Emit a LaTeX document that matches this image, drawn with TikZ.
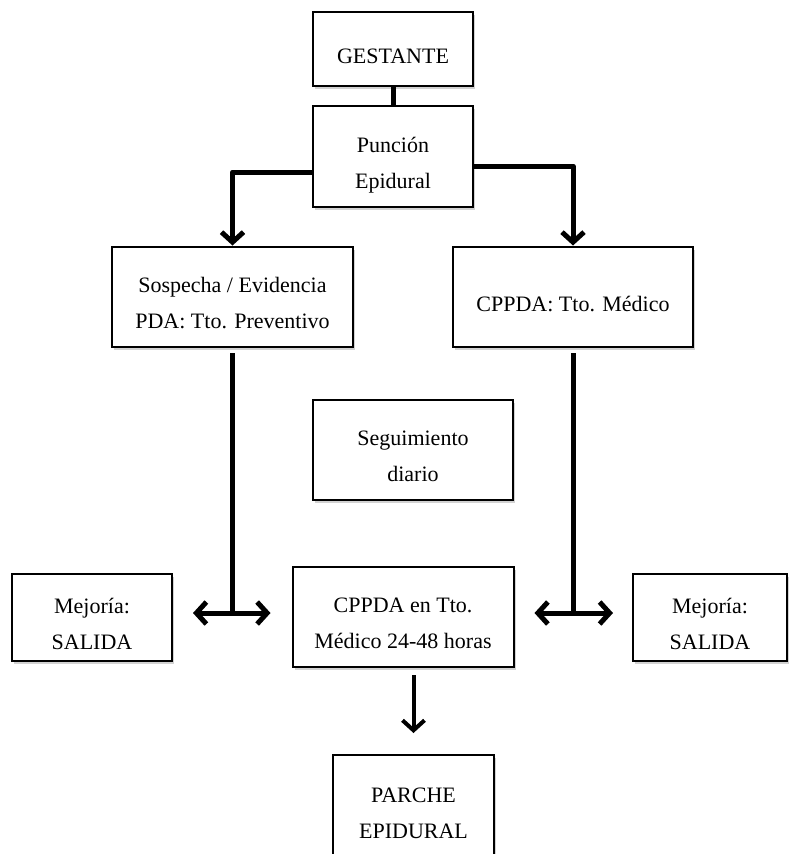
\documentclass[tikz,border=0pt]{standalone}
\usepackage{fontspec}
\setmainfont{Liberation Serif}
\usepackage{tikz}
\usetikzlibrary{arrows.meta, positioning, shadows}

\begin{document}
\begin{tikzpicture}[x=1pt, y=-1pt,
    every node/.style={font=\fontsize{22}{36}\selectfont},
    box/.style={draw, line width=2pt, fill=white, align=center,
                inner sep=0pt, outer sep=0pt, text height=63pt, text depth=0pt,
                drop shadow={shadow xshift=2pt, shadow yshift=-3pt, fill=black!25, opacity=0.7}},
    oneline/.style={text height=28pt},
    link/.style={line width=5pt},
    arr/.style={line width=5pt, -{Straight Barb[length=10pt, width=22pt]}},
    dbl/.style={line width=5pt, {Straight Barb[length=10pt, width=22pt]}-{Straight Barb[length=10pt, width=22pt]}}]
        \useasboundingbox (0,0) rectangle (788,854);
        \node[box, oneline, minimum width=160pt, minimum height=74pt]
          (gest) at (393, 49)    {GESTANTE};
        \node[box, minimum width=160pt, minimum height=101pt]
          (punc) at (393, 156.5) {Punción\\Epidural};
        \node[box, minimum width=241pt, minimum height=100pt]
          (sosp) at (232.5, 297) {Sospecha / Evidencia\\PDA: Tto. Preventivo};
        \node[box, oneline, minimum width=240pt, minimum height=100pt]
          (cppda) at (573, 297)  {CPPDA: Tto. Médico};
        \node[box, minimum width=200pt, minimum height=100pt]
          (seg) at (413, 450)    {Seguimiento\\diario};
        \node[box, minimum width=221pt, minimum height=100pt]
          (tto) at (403, 617)    {CPPDA en Tto.\\Médico 24-48 horas};
        \node[box, minimum width=160pt, minimum height=87pt]
          (mejl) at (92, 617.5)  {Mejoría:\\SALIDA};
        \node[box, minimum width=154pt, minimum height=87pt]
          (mejr) at (710, 617.5) {Mejoría:\\SALIDA};
        \node[box, minimum width=161pt, minimum height=104pt]
          (parche) at (413.5, 807) {PARCHE\\EPIDURAL};
        \coordinate (jl) at (232.5, 613);
        \coordinate (jr) at (573, 613);
        \draw[link] (gest.south) -- (punc.north);
        \draw[arr, line join=round, shorten >=1.5pt] ([yshift=-15.5pt]punc.west) -| (sosp.north);
        \draw[arr, line join=round, shorten >=1.5pt] ([yshift=-9.5pt]punc.east) -| (cppda.north);
        \draw[link, shorten <=6pt] (sosp.south) -- (jl);
        \draw[link, shorten <=6pt] (cppda.south) -- (jr);
        \draw[dbl, shorten <=21pt, shorten >=22pt] (mejl.east |- jl) -- (tto.west |- jl);
        \draw[dbl, shorten <=21pt, shorten >=20pt] (tto.east |- jr) -- (mejr.west |- jr);
        \draw[arr, line width=4pt, shorten <=8pt, shorten >=22pt] (tto.south -| parche.north) -- (parche.north);
      \end{tikzpicture}
\end{document}
